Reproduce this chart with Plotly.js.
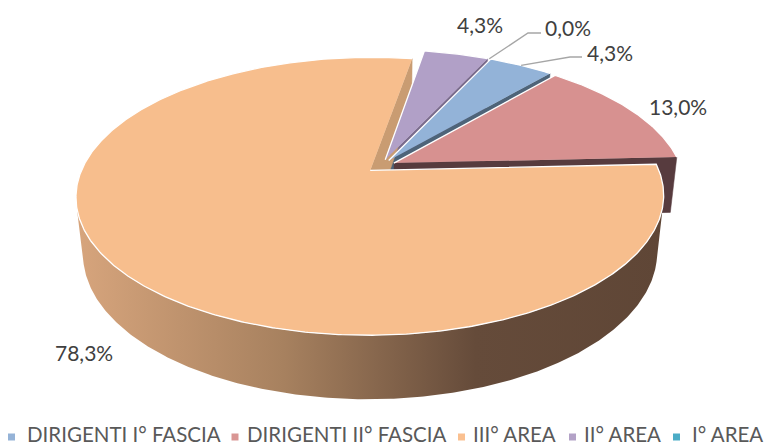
<!DOCTYPE html>
<html><head><meta charset="utf-8">
<script src="https://cdn.plot.ly/plotly-3.0.1.min.js"></script>
<style>html,body{margin:0;padding:0;background:#fff}</style>
</head><body><div id="chart" style="width:766px;height:447px"></div>
<script>
// ---- data ----
const categories = ["DIRIGENTI I° FASCIA", "DIRIGENTI II° FASCIA", "III° AREA", "II° AREA", "I° AREA"];
const values = [4.3, 13.0, 78.3, 4.3, 0.0];
const topColors = ["#93B3D8", "#D79190", "#F7BE8D", "#B1A0C7", "#4BACC6"];
const legendColors = ["#95B3D7", "#D99694", "#FAC090", "#B3A2C7", "#4BACC6"];
const sideColors = ["#4E6479", "#573B3E", "#C99C72", "#7A6B8C", "#2F7A8C"];
const labelTexts = values.map(v => v.toFixed(1).replace('.', ',') + '%');

// ---- 3D projection settings (layout) ----
const CX = 381, CY = 166, FOC = 1342, SX = 1.02, DIST = 4.77, ALPHA = 28.1 * Math.PI / 180;
const DEPTH = 0.23, PULL = 0.05, START = 25;
const sa = Math.sin(ALPHA), ca = Math.cos(ALPHA);
const cam = [0, -DIST * ca, DIST * sa];
const rad = d => d * Math.PI / 180;
function proj(X, Y, Z) {
  const up = Y * sa + Z * ca, dep = Y * ca - Z * sa, k = FOC / (DIST + dep);
  return [CX + X * k * SX, CY - up * k];
}
const total = values.reduce((a, b) => a + b, 0);
let acc = START;
const slices = values.map((v, i) => {
  const s = acc, e = acc + v / total * 360; acc = e;
  const m = (s + e) / 2;
  return {i, v, s, e, m, ox: PULL * Math.sin(rad(m)), oy: PULL * Math.cos(rad(m))};
});
function rim(sl, th, z) { return proj(Math.sin(rad(th)) + sl.ox, Math.cos(rad(th)) + sl.oy, z); }
function apex(sl, z) { return proj(sl.ox, sl.oy, z); }
function poly(pts, extra) {
  return Object.assign({
    type: 'scatter', mode: 'lines', x: pts.map(p => p[0]), y: pts.map(p => p[1]),
    fill: 'toself', hoverinfo: 'skip', showlegend: false
  }, extra);
}
function visiblePlane(n, sl) {
  const p = [sl.ox, sl.oy, 0];
  return n[0] * (cam[0] - p[0]) + n[1] * (cam[1] - p[1]) + n[2] * (cam[2] - p[2]) > 0;
}

const order = slices.filter(s => s.v > 0).sort((a, b) => Math.cos(rad(b.m)) - Math.cos(rad(a.m)));
const wallTraces = [], topTraces = [];
order.forEach(sl => {
  const i = sl.i;
  const side = {fillcolor: sideColors[i], line: {color: sideColors[i], width: 0.5}};
  const ns = [-Math.cos(rad(sl.s)), Math.sin(rad(sl.s)), 0];
  if (visiblePlane(ns, sl)) wallTraces.push(poly([apex(sl, 0), rim(sl, sl.s, 0), rim(sl, sl.s, -DEPTH), apex(sl, -DEPTH)], side));
  const ne = [Math.cos(rad(sl.e)), -Math.sin(rad(sl.e)), 0];
  if (visiblePlane(ne, sl)) wallTraces.push(poly([apex(sl, 0), rim(sl, sl.e, 0), rim(sl, sl.e, -DEPTH), apex(sl, -DEPTH)], side));
  const n = Math.max(2, Math.ceil((sl.e - sl.s) / 0.5));
  let run = [];
  const runs = [];
  for (let j = 0; j <= n; j++) {
    const th = sl.s + (sl.e - sl.s) * j / n;
    const vis = -DIST * ca * Math.cos(rad(th)) - 1 - sl.ox * Math.sin(rad(th)) - sl.oy * Math.cos(rad(th)) > 0;
    if (vis) run.push(th); else if (run.length) { runs.push(run); run = []; }
  }
  if (run.length) runs.push(run);
  runs.forEach(r => {
    if (r.length < 2) return;
    const pts = r.map(th => rim(sl, th, 0)).concat(r.slice().reverse().map(th => rim(sl, th, -DEPTH)));
    const t = poly(pts, {line: {width: 0}});
    if (i === 2) {
      t.fillgradient = {type: 'horizontal', start: 80, stop: 662,
        colorscale: [[0, '#D6A47C'], [0.35, '#A7815F'], [0.68, '#654B3A'], [1, '#5F4636']]};
    } else { t.fillcolor = sideColors[i]; }
    wallTraces.push(t);
  });
  const m2 = Math.max(2, Math.ceil((sl.e - sl.s) / 0.5));
  const tp = [apex(sl, 0)];
  for (let j = 0; j <= m2; j++) tp.push(rim(sl, sl.s + (sl.e - sl.s) * j / m2, 0));
  topTraces.push(poly(tp, {fillcolor: topColors[i], line: {color: '#FFFFFF', width: 1.3}}));
});

// data labels
const labelPos = [[610, 52], [678, 106], [84, 352], [480, 24], [568, 27]];
const annotations = labelTexts.map((t, i) => ({
  xref: 'x', yref: 'y', x: labelPos[i][0], y: labelPos[i][1], text: t, showarrow: false,
  xanchor: 'center', yanchor: 'middle', font: {family: 'Lato, sans-serif', size: 21, color: '#404040'}
}));
// leader lines
const shapes = [];
const lead = (p0, p1, p2) => shapes.push({type: 'path', xref: 'x', yref: 'y',
  path: `M${p0[0]},${p0[1]} L${p1[0]},${p1[1]} L${p2[0]},${p2[1]}`, line: {color: '#A6A6A6', width: 1.4}});
lead(rim(slices[0], slices[0].m, 0), [570, 57], [582, 57]);
lead(rim(slices[4], slices[4].s, 0), [528, 33], [541, 33]);

// legend (keys + text)
const legSq = [11.5, 235, 461.5, 572.5, 676.5], legTx = [26, 246, 472, 583, 691], legY = 437;
categories.forEach((c, i) => {
  shapes.push({type: 'rect', xref: 'x', yref: 'y', x0: legSq[i] - 3.5, x1: legSq[i] + 3.5, y0: legY - 3.5, y1: legY + 3.5,
    fillcolor: legendColors[i], line: {width: 0}});
  annotations.push({xref: 'x', yref: 'y', x: legTx[i], y: 447, text: c, showarrow: false, borderpad: 0,
    xanchor: 'left', yanchor: 'bottom', font: {family: 'Lato, sans-serif', size: 20.5, color: '#595959'}});
});

const layout = {
  width: 766, height: 447, margin: {l: 0, r: 0, t: 0, b: 0},
  paper_bgcolor: '#FFFFFF', plot_bgcolor: '#FFFFFF', showlegend: false, hovermode: false,
  xaxis: {range: [0, 766], visible: false, fixedrange: true},
  yaxis: {range: [447, 0], visible: false, fixedrange: true},
  annotations, shapes
};
Plotly.newPlot('chart', wallTraces.concat(topTraces), layout, {displayModeBar: false, staticPlot: true});
</script></body></html>
